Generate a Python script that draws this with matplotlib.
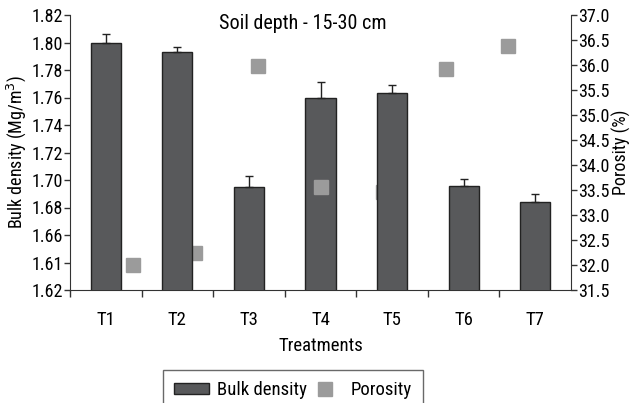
import matplotlib
matplotlib.use("Agg")
import matplotlib.pyplot as plt
from matplotlib import font_manager
import numpy as np

# condensed sans face, close to the narrow Helvetica of the reference
names = {f.name for f in font_manager.fontManager.ttflist}
family = "Roboto Condensed" if "Roboto Condensed" in names else "Liberation Sans"
plt.rcParams['font.family'] = [family, 'DejaVu Sans']

treatments = ["T1", "T2", "T3", "T4", "T5", "T6", "T7"]
bulk_density = [1.800, 1.793, 1.695, 1.760, 1.763, 1.696, 1.684]
bulk_err = [0.006, 0.004, 0.008, 0.011, 0.006, 0.005, 0.006]
porosity = [32.01, 32.25, 35.99, 33.56, 33.45, 35.93, 36.39]
left_ticks = [1.62, 1.64, 1.66, 1.68, 1.70, 1.72, 1.74, 1.76, 1.78, 1.80, 1.82]
left_tick_labels = ["1.62", "1.61", "1.66", "1.68", "1.70", "1.72", "1.74", "1.76", "1.78", "1.80", "1.82"]
right_ticks = [31.5, 32.0, 32.5, 33.0, 33.5, 34.0, 34.5, 35.0, 35.5, 36.0, 36.5, 37.0]
front_points = [3]  # porosity markers drawn over the bars (others sit behind)

fig = plt.figure(figsize=(6.33, 4.03), dpi=100)
ax = fig.add_axes([70/633, 1-290/403, (571-70)/633, (290-15)/403])
ax2 = ax.twinx()
ax3 = ax2.twiny()

x = np.arange(len(treatments))
bar_color = "#58595b"
sq_color = "#9b9b9b"
axis_color = "#333333"

bars = ax.bar(x, bulk_density, width=0.42, color=bar_color, edgecolor="#222222",
              linewidth=1.0, zorder=3, label="Bulk density")
ax.errorbar(x, bulk_density, yerr=[np.zeros(len(bulk_err)), bulk_err], fmt="none",
            ecolor="#222222", elinewidth=1.0, capsize=3, capthick=1.0, zorder=4)
ax.set_xlim(-0.5, 6.5)
ax.set_ylim(1.62, 1.82)
ax.set_yticks(left_ticks)
ax.set_yticklabels(left_tick_labels)
ax.set_xticks(np.arange(-0.5, 6.0, 1.0))
ax.set_xticklabels([])
ax.set_xticks(x, minor=True)
ax.set_xticklabels(treatments, minor=True)
ax.tick_params(axis="x", which="major", direction="out", length=5, color=axis_color, width=1)
ax.tick_params(axis="x", which="minor", length=0, pad=15, labelsize=13.5)
ax.tick_params(axis="y", direction="out", length=4, color=axis_color, width=1, labelsize=13, pad=1)
ax.set_ylabel("Bulk density (Mg/m$^3$)", fontsize=13)
ax.yaxis.set_label_coords(-0.083, 0.5)
ax.set_xlabel("Treatments", fontsize=13.5, labelpad=6)
for s in ["top", "right"]:
    ax.spines[s].set_visible(False)
for s in ["left", "bottom"]:
    ax.spines[s].set_color(axis_color)
ax.text(0.465, 1.005, "Soil depth - 15-30 cm", transform=ax.transAxes, ha="center",
        va="top", fontsize=14.5)

line, = ax3.plot(x, porosity, linestyle="none", marker="s", markersize=10, color=sq_color,
                 markeredgecolor=sq_color, label="Porosity")
ax3.set_xlim(-1.0, 7.0)
ax3.set_xticks([])
ax2.set_ylim(31.5, 37.0)
ax3.set_ylim(31.5, 37.0)
ax2.set_yticks(right_ticks)
ax2.set_yticklabels([f"{v:.1f}" for v in right_ticks])
ax2.tick_params(axis="y", direction="out", length=4, color=axis_color, width=1, labelsize=13, pad=1)
ax2.set_ylabel("Porosity (%)", fontsize=13)
ax2.yaxis.set_label_coords(1.081, 0.5)
for a in (ax2, ax3):
    for s in ["top", "left", "bottom"]:
        a.spines[s].set_visible(False)
    a.spines["right"].set_color(axis_color)
ax3.spines["right"].set_visible(False)

# squares behind the bars, except the listed ones
ax2.set_zorder(ax.get_zorder() - 1)
ax3.set_zorder(ax.get_zorder() - 1)
ax.patch.set_visible(False)
ax.plot([x[i] for i in front_points], [porosity[i] for i in front_points], linestyle="none",
        marker="s", markersize=10, color=sq_color, markeredgecolor=sq_color,
        transform=ax3.transData, zorder=5)

leg = fig.legend([bars, line], ["Bulk density", "Porosity"], loc="upper left",
                 bbox_to_anchor=(163/633, 1-370/403), borderaxespad=0, ncol=2, frameon=True,
                 fancybox=False, edgecolor="#444444", fontsize=13.5,
                 handlelength=1.85, handleheight=0.55, handletextpad=0.45, columnspacing=0.0,
                 borderpad=0.6)
leg.get_frame().set_linewidth(1.0)

fig.savefig("out.png", dpi=100)
